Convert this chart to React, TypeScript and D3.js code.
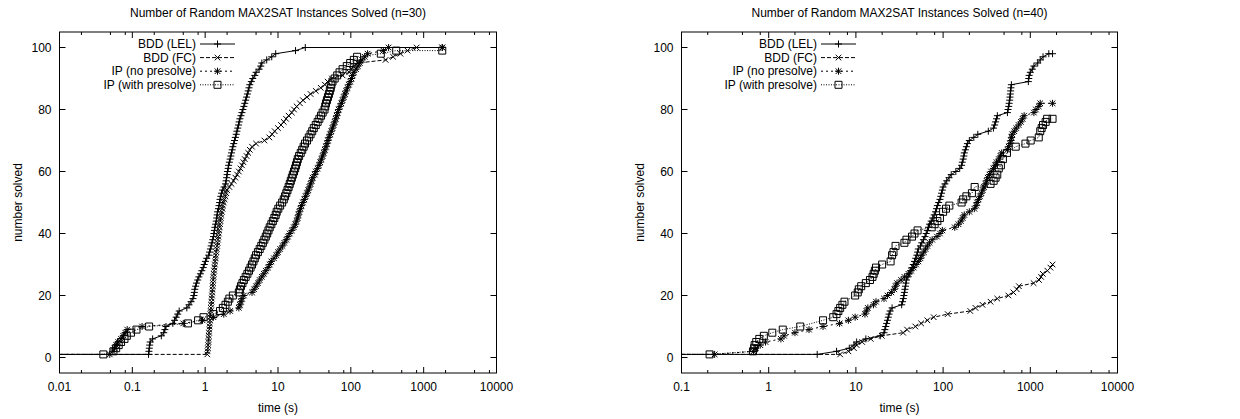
import React from "react";
import * as d3 from "d3";

type Pt = [number, number];

const FONT = "'Liberation Sans', Arial, Helvetica, sans-serif";

const LEGEND_LABELS = ["BDD (LEL)", "BDD (FC)", "IP (no presolve)", "IP (with presolve)"];
const Y_TICKS = [0, 20, 40, 60, 80, 100];
const Y_DOMAIN: [number, number] = [-5, 105];
const LEFT_X_TICKS = [0.01, 0.1, 1, 10, 100, 1000, 10000];
const RIGHT_X_TICKS = [0.1, 1, 10, 100, 1000, 10000];
const MINOR_MULT = [2, 5, 8];
const TITLE_LEFT = "Number of Random MAX2SAT Instances Solved (n=30)";
const TITLE_RIGHT = "Number of Random MAX2SAT Instances Solved (n=40)";

// ---------- n=30 ----------
const L_LEL: Pt[] = [
  [0.001, 1], [0.167, 1], [0.169, 2], [0.171, 3], [0.173, 4], [0.176, 5], [0.19, 6], [0.25, 7], [0.27, 8], [0.28, 9], [0.29, 10],
  [0.36, 11], [0.38, 12], [0.4, 13], [0.42, 14], [0.44, 15], [0.56, 16], [0.6, 17], [0.64, 18], [0.68, 19], [0.7, 20],
  [0.71, 21], [0.72, 22], [0.74, 23], [0.76, 24], [0.79, 25], [0.82, 26], [0.86, 27], [0.9, 28], [0.94, 29], [0.97, 30],
  [1.01, 31], [1.05, 32], [1.12, 33], [1.15, 34], [1.18, 35], [1.21, 36], [1.24, 37], [1.27, 38], [1.3, 39], [1.32, 40],
  [1.34, 41], [1.36, 42], [1.39, 43], [1.42, 44], [1.44, 45], [1.46, 46], [1.48, 47], [1.52, 48], [1.55, 49], [1.58, 50],
  [1.6, 51], [1.64, 52], [1.68, 53], [1.74, 54], [1.82, 55], [1.9, 56], [1.94, 57], [1.97, 58], [2.0, 59], [2.03, 60],
  [2.07, 61], [2.1, 62], [2.15, 63], [2.2, 64], [2.25, 65], [2.3, 66], [2.35, 67], [2.4, 68], [2.47, 69], [2.53, 70],
  [2.6, 71], [2.67, 72], [2.73, 73], [2.8, 74], [2.87, 75], [2.93, 76], [3.0, 77], [3.1, 78], [3.2, 79], [3.3, 80],
  [3.4, 81], [3.5, 82], [3.6, 83], [3.7, 84], [3.8, 85], [3.9, 86], [4.0, 87], [4.1, 88], [4.3, 89], [4.5, 90],
  [4.8, 91], [5.0, 92], [5.5, 93], [5.8, 94], [6.0, 95], [7.0, 96], [8.2, 97], [9.3, 98], [17.4, 99], [23.7, 100], [1800, 100],
];
const L_FC: Pt[] = [
  [0.001, 1], [1.07, 1], [1.08, 2], [1.09, 3], [1.1, 4], [1.11, 5], [1.115, 6], [1.12, 7], [1.13, 8], [1.14, 9], [1.15, 10],
  [1.16, 11], [1.165, 12], [1.17, 13], [1.18, 14], [1.19, 15], [1.2, 16], [1.21, 17], [1.22, 18], [1.23, 19], [1.24, 20],
  [1.25, 21], [1.26, 22], [1.27, 23], [1.28, 24], [1.29, 25], [1.3, 26], [1.31, 27], [1.33, 28], [1.34, 29], [1.36, 30],
  [1.37, 31], [1.39, 32], [1.4, 33], [1.42, 34], [1.44, 35], [1.46, 36], [1.48, 37], [1.5, 38], [1.52, 39], [1.54, 40],
  [1.56, 41], [1.58, 42], [1.6, 43], [1.62, 44], [1.64, 45], [1.67, 46], [1.7, 47], [1.73, 48], [1.76, 49], [1.8, 50],
  [1.85, 51], [1.9, 52], [1.95, 53], [2.0, 54], [2.15, 55], [2.3, 56], [2.45, 57], [2.6, 58], [2.75, 59], [2.9, 60],
  [3.05, 61], [3.2, 62], [3.35, 63], [3.5, 64], [3.7, 65], [3.9, 66], [4.1, 67], [4.4, 68], [5.0, 69], [6.5, 70],
  [7.6, 71], [8.3, 72], [9.0, 73], [10, 74], [11, 75], [12, 76], [12.9, 77], [14, 78], [15.5, 79], [16.6, 80],
  [18, 81], [20, 82], [22, 83], [25, 84], [28, 85], [33, 86], [38.6, 87], [44, 88], [48, 89], [55, 90],
  [77, 91], [95, 92], [102, 93], [109, 94], [125, 95], [300, 96], [380, 97], [480, 98], [600, 99], [800, 100], [1800, 100],
];
const L_IPN: Pt[] = [
  [0.001, 1], [0.049, 1], [0.054, 2], [0.057, 3], [0.06, 4], [0.064, 5], [0.07, 6], [0.075, 7], [0.08, 8], [0.085, 9],
  [0.136, 10], [0.5, 11], [0.92, 12], [1.3, 13], [1.8, 14], [2.2, 15], [2.9, 16], [3.0, 17], [3.1, 18], [3.2, 19],
  [3.4, 20], [4.4, 21], [4.7, 22], [5.0, 23], [5.3, 24], [5.6, 25], [6.0, 26], [6.4, 27], [6.8, 28], [7.3, 29],
  [7.7, 30], [8.1, 31], [8.8, 32], [9.5, 33], [10, 34], [10.7, 35], [11.5, 36], [12.2, 37], [13, 38], [13.7, 39],
  [14.5, 40], [15.5, 41], [16.5, 42], [17.3, 43], [18, 44], [18.6, 45], [19.1, 46], [19.6, 47], [20.3, 48], [21, 49],
  [22, 50], [23, 51], [24, 52], [25, 53], [26, 54], [27, 55], [28, 56], [29, 57], [30, 58], [32, 59],
  [33, 60], [35, 61], [36.5, 62], [38, 63], [39.5, 64], [41, 65], [42.5, 66], [44, 67], [45.6, 68], [47, 69],
  [48.5, 70], [50, 71], [52, 72], [54, 73], [56, 74], [58, 75], [60, 76], [62, 77], [64, 78], [66, 79],
  [68, 80], [71, 81], [74, 82], [77, 83], [80, 84], [83, 85], [86, 86], [90, 87], [94, 88], [98, 89],
  [102, 90], [106, 91], [110, 92], [118, 93], [125, 94], [133, 95], [143, 96], [155, 97], [170, 98], [280, 99],
  [330, 100], [1800, 100],
];
const L_IPP: Pt[] = [
  [0.001, 1], [0.04, 1], [0.055, 2], [0.06, 3], [0.065, 4], [0.07, 5], [0.078, 6], [0.084, 7], [0.096, 8], [0.114, 9],
  [0.17, 10], [0.58, 11], [0.8, 12], [0.95, 13], [1.3, 14], [1.6, 15], [1.75, 16], [1.9, 17], [2.05, 18], [2.15, 19],
  [2.4, 20], [2.9, 21], [3.0, 22], [3.1, 23], [3.25, 24], [3.4, 25], [3.6, 26], [3.8, 27], [4.0, 28], [4.2, 29],
  [4.4, 30], [4.6, 31], [4.8, 32], [5.0, 33], [5.3, 34], [5.6, 35], [5.9, 36], [6.2, 37], [6.5, 38], [6.8, 39],
  [7.1, 40], [7.4, 41], [7.7, 42], [8.1, 43], [8.5, 44], [8.9, 45], [9.3, 46], [9.6, 47], [10.1, 48], [10.7, 49],
  [11.4, 50], [12, 51], [12.5, 52], [13, 53], [13.5, 54], [14, 55], [14.5, 56], [15, 57], [15.5, 58], [16, 59],
  [16.6, 60], [17.2, 61], [17.7, 62], [18.2, 63], [18.7, 64], [19.5, 65], [20.5, 66], [21.5, 67], [22.5, 68], [23.5, 69],
  [25, 70], [26.5, 71], [28, 72], [29.5, 73], [31, 74], [33, 75], [35, 76], [37, 77], [39, 78], [41, 79],
  [43.5, 80], [44.5, 81], [45.6, 82], [47, 83], [48.5, 84], [50, 85], [51.5, 86], [53, 87], [54, 88], [56, 89],
  [60, 90], [65, 91], [70, 92], [77, 93], [88, 94], [98, 95], [110, 96], [122, 97], [258, 98], [420, 99], [1800, 99],
];

// ---------- n=40 ----------
const R_LEL: Pt[] = [
  [0.001, 1], [3.6, 1], [6.0, 2], [8.4, 3], [9.5, 4], [10.2, 5], [13, 6], [19, 7], [21, 8], [21.5, 9], [22, 10],
  [22.5, 11], [23, 12], [23.5, 13], [24, 14], [24.7, 15], [26, 16], [33.5, 17], [34.3, 18], [35, 19], [35.5, 20],
  [36, 21], [36.5, 22], [37, 23], [37.5, 24], [38, 25], [39.5, 26], [41, 27], [42.5, 28], [44, 29], [45.5, 30],
  [47, 31], [48.5, 32], [50, 33], [51, 34], [52, 35], [55, 36], [57, 37], [59.5, 38], [62, 39], [64, 40],
  [66, 41], [68, 42], [70, 43], [73, 44], [76, 45], [79, 46], [82, 47], [84, 48], [86, 49], [89, 50],
  [92, 51], [94, 52], [96, 53], [98, 54], [100, 55], [105, 56], [110, 57], [117, 58], [124, 59], [140, 60],
  [155, 61], [163, 62], [166, 63], [170, 64], [173, 65], [175, 66], [180, 67], [185, 68], [190, 69], [200, 70],
  [225, 71], [250, 72], [330, 73], [378, 74], [390, 75], [400, 76], [410, 77], [419, 78], [547, 79], [556, 80],
  [565, 81], [572, 82], [580, 83], [585, 84], [590, 85], [595, 86], [600, 87], [607, 88], [950, 89], [960, 90],
  [970, 91], [1000, 92], [1055, 93], [1100, 94], [1216, 95], [1300, 96], [1400, 97], [1630, 98], [1800, 98],
];
const R_FC: Pt[] = [
  [0.001, 1], [6.6, 1], [8.2, 2], [9.5, 3], [10.2, 4], [11.8, 5], [14.8, 6], [19.8, 7], [34.8, 8], [38.6, 9],
  [48, 10], [56, 11], [66, 12], [78, 13], [113, 14], [205, 15], [235, 16], [283, 17], [350, 18], [418, 19],
  [560, 20], [640, 21], [700, 22], [740, 23], [1090, 24], [1260, 25], [1330, 26], [1390, 27], [1570, 28], [1700, 29],
  [1800, 30],
];
const R_IPN: Pt[] = [
  [0.001, 1], [0.24, 1], [0.67, 2], [0.71, 3], [0.8, 4], [0.92, 5], [1.38, 6], [1.5, 7], [2.0, 8], [2.9, 9],
  [4.2, 10], [6.5, 11], [8.2, 12], [9.8, 13], [12.7, 14], [13.2, 15], [13.7, 16], [15.9, 17], [17, 18], [21, 19],
  [23, 20], [25.5, 21], [27.5, 22], [28.5, 23], [29.6, 24], [33, 25], [36, 26], [40, 27], [43, 28], [46, 29],
  [49, 30], [52, 31], [55, 32], [57, 33], [60, 34], [63, 35], [66, 36], [70, 37], [75, 38], [85, 39],
  [92, 40], [98, 41], [136, 42], [150, 43], [160, 44], [168, 45], [175, 46], [200, 47], [228, 48], [240, 49],
  [245, 50], [255, 51], [265, 52], [275, 53], [285, 54], [295, 55], [305, 56], [315, 57], [325, 58], [340, 59],
  [355, 60], [378, 61], [395, 62], [410, 63], [435, 64], [455, 65], [470, 66], [547, 67], [565, 68], [585, 69],
  [600, 70], [610, 71], [620, 72], [655, 73], [690, 74], [735, 75], [780, 76], [815, 77], [850, 78], [1100, 79],
  [1160, 80], [1250, 81], [1300, 82], [1800, 82],
];
const R_IPP: Pt[] = [
  [0.001, 1], [0.21, 1], [0.66, 2], [0.68, 3], [0.69, 4], [0.72, 5], [0.78, 6], [0.88, 7], [1.1, 8], [1.45, 9],
  [2.3, 10], [4.2, 12], [5.5, 13], [6.0, 14], [6.3, 15], [6.6, 16], [7.0, 17], [7.4, 18], [9.8, 20], [10.5, 21],
  [10.8, 22], [11.5, 23], [13, 24], [14.5, 25], [15.5, 26], [16, 27], [16.5, 28], [17, 29], [20, 30], [25, 31],
  [26, 33], [27, 34], [28.5, 36], [36, 37], [38, 38], [44, 39], [47, 40], [51, 41], [74, 42], [80, 43],
  [86, 44], [92, 45], [100, 47], [108, 48], [118, 49], [163, 50], [170, 51], [185, 52], [214, 53], [230, 55],
  [350, 56], [380, 57], [400, 58], [418, 59], [435, 61], [460, 62], [485, 64], [540, 66], [680, 68], [880, 69],
  [1010, 70], [1250, 71], [1300, 73], [1350, 74], [1400, 75], [1500, 76], [1560, 77], [1800, 77],
];

const LEFT_SERIES = [L_LEL, L_FC, L_IPN, L_IPP];
const RIGHT_SERIES = [R_LEL, R_FC, R_IPN, R_IPP];

const DASHES = [undefined, "4,2", "2,3", "1,1.5"];
const MARKERS = ["plus", "cross", "star", "square"];

function markerPath(kind: string): string {
  const p = 3.5;
  const c = 2.8;
  const plus = `M${-p},0H${p}M0,${-p}V${p}`;
  const cross = `M${-c},${-c}L${c},${c}M${-c},${c}L${c},${-c}`;
  if (kind === "plus") return plus;
  if (kind === "cross") return cross;
  if (kind === "star") return plus + cross;
  return `M-3.5,-3.5h7v7h-7z`;
}

interface PanelProps {
  id: string;
  left: number;
  right: number;
  xDomain: [number, number];
  xTicks: number[];
  series: Pt[][];
  title: string;
  legendEnd: number;
}

const TOP = 32;
const BOTTOM = 373;

function Panel({ id, left, right, xDomain, xTicks, series, title, legendEnd }: PanelProps) {
  const x = d3.scaleLog().domain(xDomain).range([left, right]);
  const y = d3.scaleLinear().domain(Y_DOMAIN).range([BOTTOM, TOP]);
  const line = d3.line<Pt>().x((d) => x(d[0])).y((d) => y(d[1]));

  const minor: number[] = [];
  const lo = Math.round(Math.log10(xDomain[0]));
  const hi = Math.round(Math.log10(xDomain[1]));
  for (let k = lo; k < hi; k++) {
    MINOR_MULT.forEach((m) => minor.push(m * Math.pow(10, k)));
  }
  const cx = (left + right) / 2;
  const majorLen = 6;
  const minorLen = 3;
  const legendStart = legendEnd - 35;
  const legendRows = LEGEND_LABELS.map((_, i) => 44 + i * 13.6);

  return (
    <g>
      <defs>
        <clipPath id={id}>
          <rect x={left} y={TOP} width={right - left} height={BOTTOM - TOP} />
        </clipPath>
      </defs>
      <text x={cx} y={17} textAnchor="middle" fontSize={12} fontFamily={FONT}>{title}</text>
      {/* ticks */}
      <g stroke="#000" strokeWidth={1}>
        {xTicks.map((t) => (
          <g key={"M" + t}>
            <line x1={x(t)} x2={x(t)} y1={BOTTOM} y2={BOTTOM - majorLen} />
            <line x1={x(t)} x2={x(t)} y1={TOP} y2={TOP + majorLen} />
          </g>
        ))}
        {minor.map((t) => (
          <g key={"m" + t}>
            <line x1={x(t)} x2={x(t)} y1={BOTTOM} y2={BOTTOM - minorLen} />
            <line x1={x(t)} x2={x(t)} y1={TOP} y2={TOP + minorLen} />
          </g>
        ))}
        {Y_TICKS.map((v) => (
          <g key={"y" + v}>
            <line x1={left} x2={left + majorLen} y1={y(v)} y2={y(v)} />
            <line x1={right} x2={right - majorLen} y1={y(v)} y2={y(v)} />
          </g>
        ))}
      </g>
      {xTicks.map((t) => (
        <text key={"xl" + t} x={x(t)} y={391} textAnchor="middle" fontSize={12} fontFamily={FONT}>{String(t)}</text>
      ))}
      {Y_TICKS.map((v) => (
        <text key={"yl" + v} x={left - 8} y={y(v) + 4} textAnchor="end" fontSize={12} fontFamily={FONT}>{String(v)}</text>
      ))}
      <text x={cx} y={412} textAnchor="middle" fontSize={12} fontFamily={FONT}>time (s)</text>
      <text transform={`translate(${left - 38},${(TOP + BOTTOM) / 2}) rotate(-90)`} textAnchor="middle" fontSize={12} fontFamily={FONT}>number solved</text>
      {/* series */}
      <g clipPath={`url(#${id})`}>
        {series.map((s, i) => (
          <g key={"s" + i}>
            <path d={line(s) || ""} fill="none" stroke="#000" strokeWidth={1} strokeDasharray={DASHES[i]} />
            {s.slice(1).map((d, j) => (
              <path key={j} d={markerPath(MARKERS[i])} transform={`translate(${x(d[0])},${y(d[1])})`} fill="none" stroke="#000" strokeWidth={1} />
            ))}
          </g>
        ))}
      </g>
      {/* legend */}
      {LEGEND_LABELS.map((lab, i) => (
        <g key={"lg" + i}>
          <text x={legendStart - 4} y={legendRows[i] + 4} textAnchor="end" fontSize={12} fontFamily={FONT}>{lab}</text>
          <line x1={legendStart} x2={legendEnd} y1={legendRows[i]} y2={legendRows[i]} stroke="#000" strokeWidth={1} strokeDasharray={DASHES[i]} />
          <path d={markerPath(MARKERS[i])} transform={`translate(${(legendStart + legendEnd) / 2},${legendRows[i]})`} fill="none" stroke="#000" strokeWidth={1} />
        </g>
      ))}
      <rect x={left} y={TOP} width={right - left} height={BOTTOM - TOP} fill="none" stroke="#000" strokeWidth={1} />
    </g>
  );
}

export default function App() {
  return (
    <svg width={1240} height={419} style={{ position: "absolute", left: 0, top: 0, background: "#fff" }}>
      <Panel id="clipL" left={59.5} right={496.5} xDomain={[0.01, 10000]} xTicks={LEFT_X_TICKS} series={LEFT_SERIES} title={TITLE_LEFT} legendEnd={235} />
      <Panel id="clipR" left={681.5} right={1117.5} xDomain={[0.1, 10000]} xTicks={RIGHT_X_TICKS} series={RIGHT_SERIES} title={TITLE_RIGHT} legendEnd={856} />
    </svg>
  );
}
